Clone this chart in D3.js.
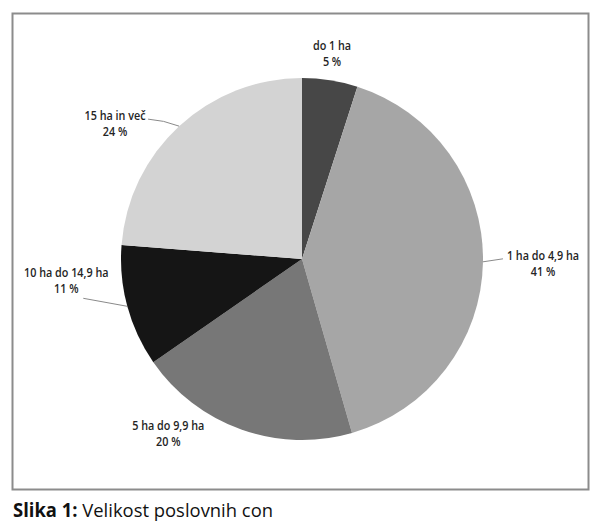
<!DOCTYPE html>
<html>
<head>
<meta charset="utf-8">
<script src="https://cdn.jsdelivr.net/npm/d3@7"></script>
<style>
  html, body { margin: 0; padding: 0; background: #fff; }
  svg { display: block; }
</style>
</head>
<body>
<svg id="chart" width="600" height="528"></svg>
<script>
// ---- data ----
const categories = ["do 1 ha", "1 ha do 4,9 ha", "5 ha do 9,9 ha", "10 ha do 14,9 ha", "15 ha in več"];
const values = [5, 41, 20, 11, 24];
const percentLabels = ["5 %", "41 %", "20 %", "11 %", "24 %"];
const captionBold = "Slika 1:";
const captionText = " Velikost poslovnih con";

// ---- styling / layout ----
const colors = ["#474747", "#a6a6a6", "#777777", "#151515", "#d3d3d3"];
// leader line offset from the arc edge (null = no leader)
const leaderOffsets = [null, [20, -3], null, [-44, -8], [-31, -7]];
// text anchor offset (from leader end, or from arc edge when no leader)
const textOffsets = [[2, -30], [40, 1], [-73, 0], [-17, -21], [-33, 1]];

const svg = d3.select("#chart");
const cx = 302, cy = 259, R = 181;
const font = "'Open Sans', 'DejaVu Sans', sans-serif";
const labelSize = 12, lineGap = 16, squeeze = 0.9;

// frame
svg.append("rect")
  .attr("x", 12.5).attr("y", 13.5)
  .attr("width", 576).attr("height", 476)
  .attr("fill", "#fff")
  .attr("stroke", "#8c8c8c")
  .attr("stroke-width", 2);

const pie = d3.pie().sort(null).value(d => d)(values);
const arc = d3.arc().innerRadius(0).outerRadius(R);

const g = svg.append("g").attr("transform", `translate(${cx},${cy})`);

g.selectAll("path.slice")
  .data(pie)
  .join("path")
  .attr("class", "slice")
  .attr("d", arc)
  .attr("fill", (d, i) => colors[i]);

function edgePoint(d) {
  const a = (d.startAngle + d.endAngle) / 2;
  return [R * Math.sin(a), -R * Math.cos(a)];
}

pie.forEach((d, i) => {
  const e = edgePoint(d);
  let anchorPt = e;
  const lo = leaderOffsets[i];
  if (lo) {
    const end = [e[0] + lo[0], e[1] + lo[1]];
    const mid = [(e[0] + end[0]) / 2, (e[1] + end[1]) / 2 + (i === 4 ? -2.5 : 0)];
    g.append("path")
      .attr("d", `M${e[0]},${e[1]} Q${mid[0]},${mid[1]} ${end[0]},${end[1]}`)
      .attr("fill", "none")
      .attr("stroke", "#8a8a8a")
      .attr("stroke-width", 1);
    anchorPt = end;
  }
  const to = textOffsets[i];
  const tx = anchorPt[0] + to[0], ty = anchorPt[1] + to[1];
  const lg = g.append("g")
    .attr("transform", `translate(${tx},${ty}) scale(${squeeze},1)`);
  [categories[i], percentLabels[i]].forEach((s, k) => {
    lg.append("text")
      .attr("x", 0).attr("y", k * lineGap)
      .attr("text-anchor", "middle")
      .attr("font-family", font)
      .attr("font-size", labelSize)
      .attr("font-weight", 600)
      .attr("fill", "#242424")
      .text(s);
  });
});

// caption
const cap = svg.append("text")
  .attr("transform", "translate(13,517) scale(0.97,1)")
  .attr("font-family", font)
  .attr("font-size", 19)
  .attr("fill", "#111");
cap.append("tspan").attr("font-weight", 700).text(captionBold);
cap.append("tspan").attr("font-weight", 400).text(captionText);
</script>
</body>
</html>
